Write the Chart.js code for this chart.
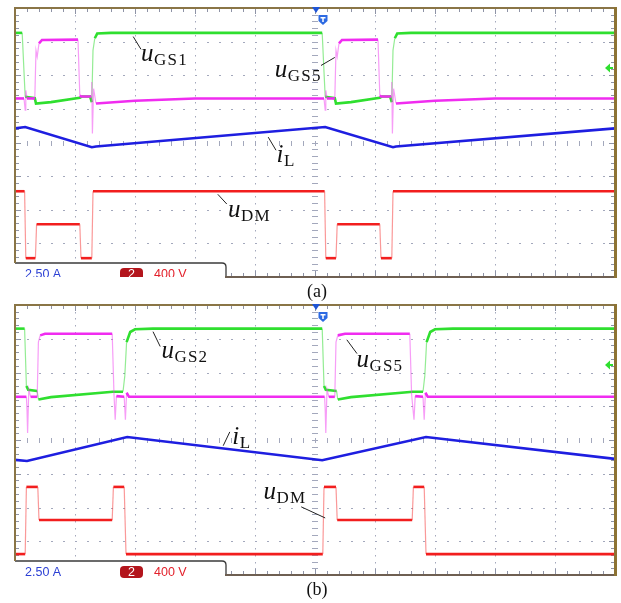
<!DOCTYPE html>
<html lang="en">
<head>
  <meta charset="UTF-8" />
  <title>Oscilloscope waveforms (a) and (b)</title>
  <script src="https://cdn.jsdelivr.net/npm/chart.js"></script>
  <style>
    body { margin: 0; background: #fff; width: 621px; height: 603px; position: relative; overflow: hidden; }
    canvas { position: absolute; left: 0; }
    #scopeA { top: 0; }
    #scopeB { top: 298px; }
    .cap { position: absolute; left: 0; width: 634px; text-align: center;
           font: 18px "Liberation Serif", "Times New Roman", serif; line-height: 18px; color: #111; }
  </style>
</head>
<body>
  <canvas id="scopeA" width="621" height="300"></canvas>
  <canvas id="scopeB" width="621" height="300"></canvas>
  <div class="cap" style="top:282px">(a)</div>
  <div class="cap" style="top:580px">(b)</div>

  <script>
    // Traces: [time in divisions, level in divisions from the bottom]
    // Screen is 10 x 8 divisions.
    const uGS1_a = [[0,7.26],[0.12,7.26],[0.15,6.1],[0.17,5.36],[0.33,5.32],[0.35,5.16],[0.6,5.2],[1.08,5.33],[1.12,5.37],[1.25,5.37],[1.28,5.2],[1.3,6.74],[1.33,7.1],[1.37,7.24],[1.6,7.26],
                    [5.12,7.26],[5.15,6.1],[5.17,5.36],[5.33,5.32],[5.35,5.16],[5.6,5.2],[6.08,5.33],[6.12,5.37],[6.25,5.37],[6.28,5.2],[6.3,6.74],[6.33,7.1],[6.37,7.24],[6.6,7.26],[10,7.26]];
    const uGS5_a = [[0,5.31],[0.15,5.31],[0.17,4.96],[0.18,5.55],[0.2,5.31],[0.33,5.31],[0.35,6.74],[0.37,6.55],[0.4,6.95],[0.45,7.05],[1.05,7.06],[1.08,5.4],[1.1,5.37],[1.27,5.37],[1.28,5.8],[1.29,4.27],[1.31,5.6],[1.35,5.16],[2.0,5.24],[3.0,5.31],
                    [5.15,5.31],[5.17,4.96],[5.18,5.55],[5.2,5.31],[5.33,5.31],[5.35,6.74],[5.37,6.55],[5.4,6.95],[5.45,7.05],[6.05,7.06],[6.08,5.4],[6.1,5.37],[6.27,5.37],[6.28,5.8],[6.29,4.27],[6.31,5.6],[6.35,5.16],[7.0,5.24],[8.0,5.31],[10,5.31]];
    const iL_a   = [[0,4.42],[0.17,4.46],[1.28,3.86],[1.35,3.88],[5.17,4.46],[6.3,3.86],[6.35,3.88],[10,4.42]];
    const uDM_a  = [[0,2.55],[0.16,2.55],[0.18,0.56],[0.34,0.56],[0.36,1.57],[1.08,1.57],[1.1,0.56],[1.28,0.56],[1.3,2.55],
                    [5.16,2.55],[5.18,0.56],[5.35,0.56],[5.37,1.57],[6.08,1.57],[6.1,0.56],[6.28,0.56],[6.3,2.55],[10,2.55]];

    const uGS2_b = [[0,7.3],[0.16,7.3],[0.19,5.6],[0.22,5.49],[0.37,5.45],[0.39,5.2],[0.6,5.27],[1.63,5.43],[1.8,5.43],[1.83,5.9],[1.86,6.9],[1.92,7.2],[2.0,7.28],[2.3,7.3],
                    [5.12,7.3],[5.15,5.6],[5.18,5.49],[5.36,5.45],[5.38,5.2],[5.6,5.27],[6.63,5.43],[6.8,5.43],[6.83,5.9],[6.86,6.9],[6.92,7.2],[7.0,7.28],[7.3,7.3],[10,7.3]];
    const uGS5_b = [[0,5.28],[0.19,5.28],[0.2,4.9],[0.21,4.21],[0.23,5.5],[0.26,5.28],[0.37,5.28],[0.39,6.9],[0.42,7.1],[0.5,7.15],[1.62,7.15],[1.65,5.35],[1.67,4.6],[1.69,5.3],[1.82,5.28],[1.84,4.6],[1.86,5.4],[1.9,5.28],
                    [5.16,5.28],[5.17,4.9],[5.18,4.21],[5.2,5.5],[5.23,5.28],[5.33,5.28],[5.35,6.9],[5.38,7.1],[5.5,7.15],[6.58,7.15],[6.61,5.35],[6.65,4.6],[6.67,5.3],[6.8,5.28],[6.82,4.6],[6.84,5.4],[6.88,5.28],[10,5.28]];
    const iL_b   = [[0,3.41],[0.2,3.38],[1.87,4.09],[5.12,3.4],[6.85,4.09],[10,3.44]];
    const uDM_b  = [[0,0.62],[0.17,0.62],[0.19,2.61],[0.38,2.61],[0.4,1.63],[1.62,1.63],[1.64,2.61],[1.82,2.61],[1.85,0.62],
                    [5.13,0.62],[5.15,2.61],[5.35,2.61],[5.37,1.63],[6.62,1.63],[6.64,2.61],[6.82,2.61],[6.85,0.62],[10,0.62]];

    // channel scale readout on the info bar
    const chScale = ['2.50 A', '2', '400 V'];

    // trace labels: name, subscript, text anchor, leader line
    const labelsA = [
      { name: 'u', sub: 'GS1', at: [2.1, 6.41], from: [1.97, 7.15], to: [2.1, 6.77] },
      { name: 'u', sub: 'GS5', at: [4.33, 5.94], from: [5.33, 6.53], to: [5.1, 6.29] },
      { name: 'i', sub: 'L',   at: [4.36, 3.41], from: [4.22, 4.16], to: [4.35, 3.77] },
      { name: 'u', sub: 'DM',  at: [3.55, 1.78], from: [3.38, 2.46], to: [3.53, 2.17] }
    ];
    const labelsB = [
      { name: 'u', sub: 'GS2', at: [2.44, 6.44], from: [2.3, 7.21], to: [2.42, 6.77] },
      { name: 'u', sub: 'GS5', at: [5.69, 6.17], from: [5.53, 6.97], to: [5.7, 6.56] },
      { name: 'i', sub: 'L',   at: [3.62, 3.89], from: [3.47, 3.83], to: [3.58, 4.24] },
      { name: 'u', sub: 'DM',  at: [4.14, 2.26], from: [4.77, 2.02], to: [5.17, 1.69] }
    ];

    const GREEN = '#2fdf2f', MAGENTA = '#f02cf0', BLUE = '#1e1ee0', RED = '#f21e1e';

    // fast edges show up faint and thin on the scope
    function steep(c) {
      return Math.abs(c.p1.x - c.p0.x) < 3 && Math.abs(c.p1.y - c.p0.y) > 6;
    }
    function trace(data, color, faint, order) {
      return {
        data: data.map(p => ({ x: p[0], y: p[1] })),
        borderColor: color,
        borderWidth: 2.6,
        order: order,
        segment: {
          borderColor: c => steep(c) ? faint : undefined,
          borderWidth: c => steep(c) ? 1.2 : undefined
        }
      };
    }

    const scopePlugin = {
      id: 'scope',
      beforeDatasetsDraw(chart, args, opts) {
        const { ctx, chartArea: a, scales: { x, y } } = chart;
        const notchX = x.getPixelForValue(3.52);
        const barTop = a.bottom - 14;
        ctx.save();
        // dotted graticule
        ctx.fillStyle = '#a3a8bc';
        for (let i = 1; i < 10; i++) {
          const px = Math.round(x.getPixelForValue(i));
          for (let j = 1; j < 40; j++) {
            const py = Math.round(y.getPixelForValue(j * 0.2));
            if (px < notchX && py > barTop - 2) continue;
            if (i === 5) ctx.fillRect(px - 3, py, 6, 1);
            else if (j % 5 !== 0) ctx.fillRect(px, py, 1, 1.5);
          }
        }
        for (let k = 1; k < 8; k++) {
          const py = Math.round(y.getPixelForValue(k));
          for (let m = 1; m < 50; m++) {
            const px = Math.round(x.getPixelForValue(m * 0.2));
            if (k === 4) ctx.fillRect(px, py - 2, 1, 5);
            else ctx.fillRect(px, py, 2, 1);
          }
        }
        // border ticks
        ctx.fillStyle = '#8e93a6';
        for (let m = 1; m < 50; m++) {
          const px = Math.round(x.getPixelForValue(m * 0.2));
          const len = m % 5 === 0 ? 6 : 4;
          ctx.fillRect(px, a.top, 1, len);
          if (px > notchX + 2) ctx.fillRect(px, a.bottom - len, 1, len);
        }
        for (let j = 1; j < 40; j++) {
          const py = Math.round(y.getPixelForValue(j * 0.2));
          const len = j % 5 === 0 ? 6 : 4;
          if (py < barTop - 2) ctx.fillRect(a.left, py, len, 1);
          ctx.fillRect(a.right - len, py, len, 1);
        }
        ctx.restore();
      },
      afterDatasetsDraw(chart, args, opts) {
        const { ctx, chartArea: a, scales: { x, y } } = chart;
        const notchX = Math.round(x.getPixelForValue(3.52));
        const barTop = a.bottom - 14;
        ctx.save();
        // info bar
        ctx.fillStyle = '#fff';
        ctx.fillRect(a.left + 1, barTop + 1, notchX - a.left - 1, a.bottom - barTop + 4);
        ctx.strokeStyle = '#3b3b3b';
        ctx.lineWidth = 1.3;
        ctx.beginPath();
        ctx.moveTo(a.left, barTop);
        ctx.lineTo(notchX - 4, barTop);
        ctx.quadraticCurveTo(notchX, barTop, notchX, barTop + 4);
        ctx.lineTo(notchX, a.bottom);
        ctx.stroke();
        // frame
        ctx.lineWidth = 2;
        ctx.strokeStyle = '#8a7546';
        ctx.beginPath();
        ctx.moveTo(a.left, barTop);
        ctx.lineTo(a.left, a.top);
        ctx.lineTo(a.right, a.top);
        ctx.stroke();
        ctx.strokeStyle = '#6e5f52';
        ctx.beginPath();
        ctx.moveTo(notchX - 1, a.bottom);
        ctx.lineTo(a.right, a.bottom);
        ctx.stroke();
        ctx.lineWidth = 3;
        ctx.strokeStyle = '#8d7334';
        ctx.beginPath();
        ctx.moveTo(a.right + 0.5, a.top - 1);
        ctx.lineTo(a.right + 0.5, a.bottom + 1);
        ctx.stroke();

        // channel readout
        ctx.save();
        if (opts.clipInfo) {
          ctx.beginPath();
          ctx.rect(0, 0, chart.width, a.bottom);
          ctx.clip();
        }
        const base = a.bottom + 1;
        ctx.font = '12.5px "Liberation Sans", Arial, sans-serif';
        ctx.textBaseline = 'alphabetic';
        ctx.fillStyle = '#2b3fd4';
        ctx.fillText(chScale[0], a.left + 10, base);
        ctx.fillStyle = '#b3151c';
        ctx.beginPath();
        ctx.roundRect(a.left + 105, base - 10, 23, 12, 4);
        ctx.fill();
        ctx.fillStyle = '#fff';
        ctx.textAlign = 'center';
        ctx.fillText(chScale[1], a.left + 116.5, base);
        ctx.textAlign = 'left';
        ctx.fillStyle = '#e3212b';
        ctx.fillText(chScale[2], a.left + 139, base);
        ctx.restore();

        // trigger marker
        const tx = Math.round(x.getPixelForValue(5.02));
        ctx.fillStyle = '#1f55d6';
        ctx.beginPath();
        ctx.moveTo(tx - 4, a.top - 1);
        ctx.lineTo(tx + 4, a.top - 1);
        ctx.lineTo(tx, a.top + 5);
        ctx.closePath();
        ctx.fill();
        const sx = tx + 7, sy = a.top + 7;
        ctx.fillStyle = '#2d6ae2';
        ctx.beginPath();
        ctx.moveTo(sx - 4.5, sy);
        ctx.lineTo(sx + 4.5, sy);
        ctx.lineTo(sx + 4.5, sy + 6);
        ctx.lineTo(sx, sy + 10);
        ctx.lineTo(sx - 4.5, sy + 6);
        ctx.closePath();
        ctx.fill();
        ctx.fillStyle = '#fff';
        ctx.fillRect(sx - 2.5, sy + 2, 5, 1.5);
        ctx.fillRect(sx - 0.75, sy + 2, 1.5, 5);

        // green channel reference arrow
        const gy = Math.round(y.getPixelForValue(6.23));
        ctx.fillStyle = GREEN;
        ctx.beginPath();
        ctx.moveTo(a.right - 10, gy);
        ctx.lineTo(a.right - 5, gy - 4.5);
        ctx.lineTo(a.right - 5, gy + 4.5);
        ctx.closePath();
        ctx.fill();
        ctx.fillRect(a.right - 6, gy - 1, 4, 2);

        // trace labels with leader lines
        ctx.strokeStyle = '#222';
        ctx.lineWidth = 1;
        ctx.fillStyle = '#111';
        (opts.labels || []).forEach(l => {
          ctx.beginPath();
          ctx.moveTo(x.getPixelForValue(l.from[0]), y.getPixelForValue(l.from[1]));
          ctx.lineTo(x.getPixelForValue(l.to[0]), y.getPixelForValue(l.to[1]));
          ctx.stroke();
          let lx = x.getPixelForValue(l.at[0]);
          const ly = y.getPixelForValue(l.at[1]);
          ctx.font = 'italic 25px "Liberation Serif", "Times New Roman", serif';
          ctx.fillText(l.name, lx, ly);
          lx += ctx.measureText(l.name).width + 0.5;
          ctx.font = '17px "Liberation Serif", "Times New Roman", serif';
          for (const ch of l.sub) {
            ctx.fillText(ch, lx, ly + 4);
            lx += ctx.measureText(ch).width + 1.2;
          }
        });
        ctx.restore();
      }
    };

    function makeScope(id, series, labels, padTop, clipInfo) {
      return new Chart(document.getElementById(id), {
        type: 'line',
        data: {
          datasets: [
            trace(series[0], GREEN, 'rgba(60,220,60,0.55)', 2),
            trace(series[1], MAGENTA, 'rgba(240,60,240,0.5)', 1),
            trace(series[2], BLUE, 'rgba(40,40,230,0.6)', 0),
            trace(series[3], RED, 'rgba(245,70,70,0.55)', 3)
          ]
        },
        options: {
          responsive: false,
          animation: false,
          devicePixelRatio: 1,
          layout: { padding: { left: 15, right: 6, top: padTop, bottom: 23 } },
          elements: { point: { radius: 0 }, line: { tension: 0 } },
          scales: {
            x: { type: 'linear', min: 0, max: 10, display: false },
            y: { type: 'linear', min: 0, max: 8, display: false }
          },
          plugins: {
            legend: { display: false },
            tooltip: { enabled: false },
            scope: { labels: labels, clipInfo: clipInfo }
          }
        },
        plugins: [scopePlugin]
      });
    }

    makeScope('scopeA', [uGS1_a, uGS5_a, iL_a, uDM_a], labelsA, 8, true);
    makeScope('scopeB', [uGS2_b, uGS5_b, iL_b, uDM_b], labelsB, 7, false);
  </script>
</body>
</html>
